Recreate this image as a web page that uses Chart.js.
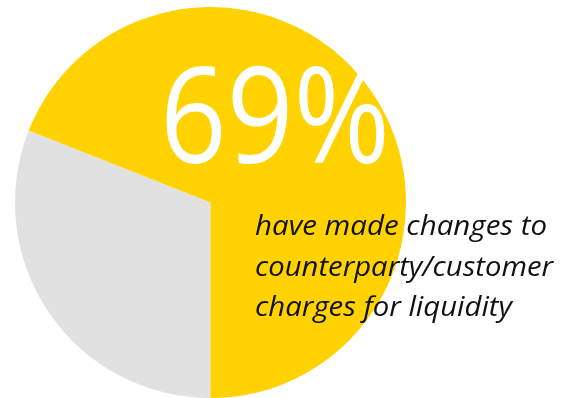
<!DOCTYPE html>
<html>
<head>
<meta charset="utf-8">
<script src="https://cdn.jsdelivr.net/npm/chart.js@4"></script>
<style>
  html, body { margin: 0; padding: 0; background: #fff; }
  canvas { display: block; }
</style>
</head>
<body>
<canvas id="pieChart" width="577" height="398"></canvas>
<script>
// share of respondents
const categories = ['Not changed', 'Changed'];
const shares = [31, 69];
const sliceColors = ['#e1e1e1', '#ffd200'];

const headline = shares[1] + '%';
const captionLines = [
  'have made changes to',
  'counterparty/customer',
  'charges for liquidity'
];

// draw text squeezed/stretched to a given width
function fitText(ctx, text, x, y, width) {
  const w = ctx.measureText(text).width;
  ctx.save();
  ctx.translate(x, y);
  ctx.scale(width / w, 1);
  ctx.fillText(text, 0, 0);
  ctx.restore();
}

const overlayText = {
  id: 'overlayText',
  afterDraw(chart) {
    const ctx = chart.ctx;
    ctx.save();
    ctx.textBaseline = 'alphabetic';
    ctx.textAlign = 'left';

    ctx.fillStyle = '#ffffff';
    ctx.font = '400 134px "Open Sans"';
    fitText(ctx, headline, 160, 163, 230);

    ctx.fillStyle = '#111111';
    ctx.font = 'italic 400 27px "Open Sans"';
    const widths = [292, 298, 257];
    captionLines.forEach((line, i) => {
      fitText(ctx, line, 255, 235 + i * 40.5, widths[i]);
    });
    ctx.restore();
  }
};

const ctx = document.getElementById('pieChart').getContext('2d');

new Chart(ctx, {
  type: 'pie',
  data: {
    labels: categories,
    datasets: [{
      data: shares,
      backgroundColor: sliceColors,
      borderWidth: 0
    }]
  },
  options: {
    responsive: false,
    animation: false,
    rotation: 180,
    layout: { padding: { left: 15, right: 171, top: 7, bottom: 0 } },
    plugins: {
      legend: { display: false },
      tooltip: { enabled: false }
    }
  },
  plugins: [overlayText]
});
</script>
</body>
</html>
